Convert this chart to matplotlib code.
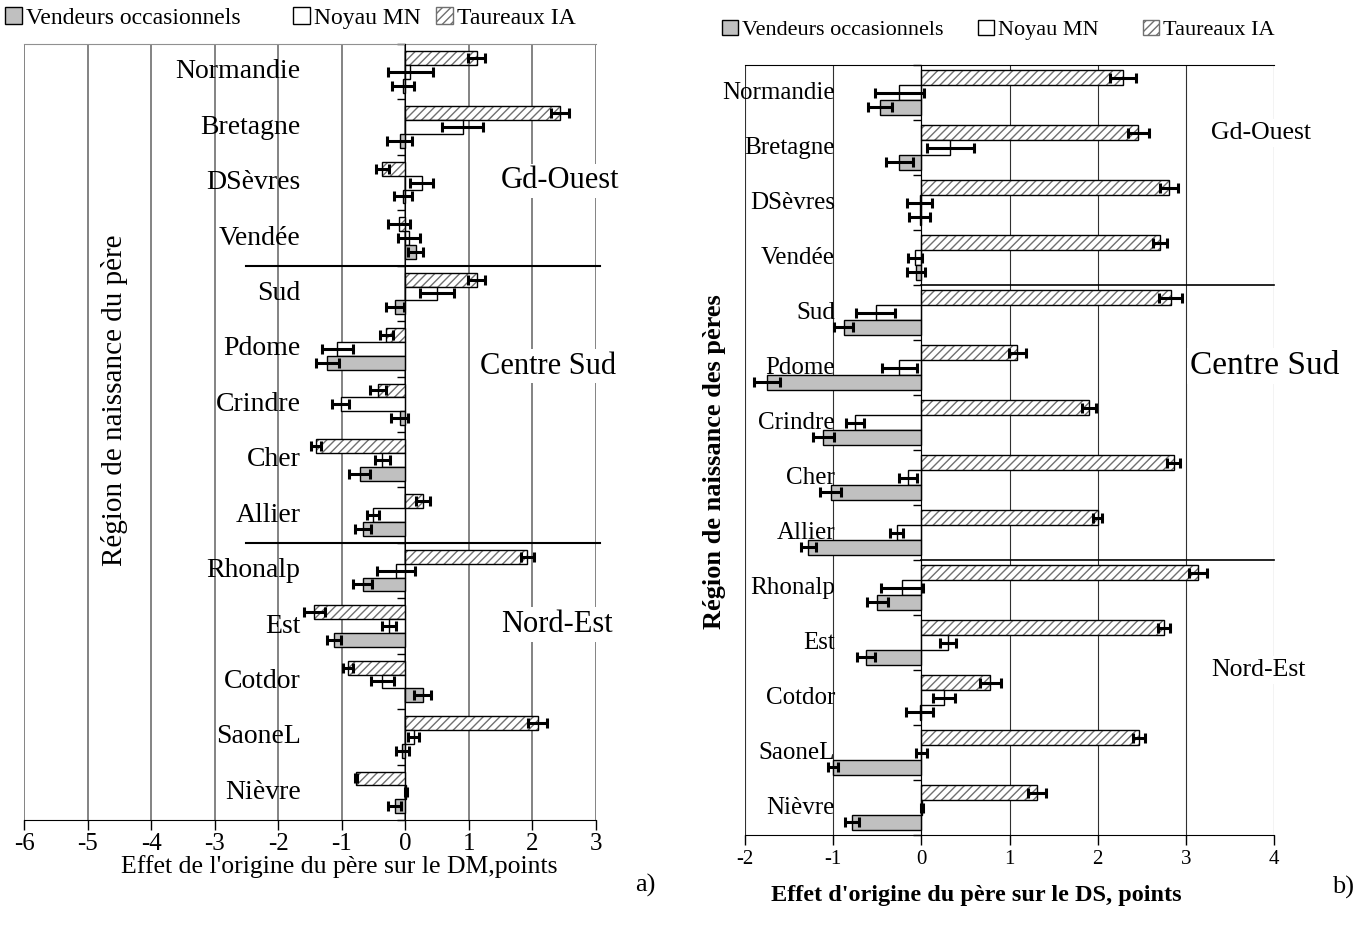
import numpy as np
import matplotlib
matplotlib.use("Agg")
import matplotlib.pyplot as plt
from matplotlib.patches import Patch
import matplotlib.transforms as mtransforms

plt.rcParams['font.family'] = ['Liberation Serif', 'DejaVu Serif']
plt.rcParams['hatch.linewidth'] = 1.0
plt.rcParams['axes.unicode_minus'] = False

regions = ["Normandie", "Bretagne", "DSèvres", "Vendée", "Sud", "Pdome", "Crindre",
           "Cher", "Allier", "Rhonalp", "Est", "Cotdor", "SaoneL", "Nièvre"]
groups = ["Gd-Ouest", "Centre Sud", "Nord-Est"]
series = ["Vendeurs occasionnels", "Noyau MN", "Taureaux IA"]

# a) effet sur le DM
dm_vo = [-0.04, -0.09, -0.04, 0.16, -0.16, -1.23, -0.09, -0.72, -0.67, -0.67, -1.12, 0.27, -0.05, -0.17]
dm_vo_err = [0.17, 0.20, 0.14, 0.12, 0.14, 0.18, 0.13, 0.16, 0.13, 0.15, 0.11, 0.14, 0.10, 0.10]
dm_mn = [0.08, 0.90, 0.26, 0.06, 0.50, -1.07, -1.02, -0.36, -0.51, -0.15, -0.26, -0.36, 0.13, 0.01]
dm_mn_err = [0.36, 0.32, 0.18, 0.17, 0.27, 0.24, 0.14, 0.12, 0.09, 0.30, 0.11, 0.18, 0.085, 0.01]
dm_ia = [1.12, 2.43, -0.36, -0.10, 1.12, -0.30, -0.43, -1.40, 0.28, 1.92, -1.43, -0.90, 2.08, -0.78]
dm_ia_err = [0.14, 0.14, 0.10, 0.18, 0.14, 0.10, 0.12, 0.08, 0.11, 0.10, 0.16, 0.08, 0.15, 0.02]

# b) effet sur le DS
ds_vo = [-0.47, -0.25, -0.02, -0.06, -0.88, -1.75, -1.11, -1.03, -1.28, -0.50, -0.63, -0.02, -1.00, -0.79]
ds_vo_err = [0.14, 0.15, 0.12, 0.10, 0.11, 0.15, 0.12, 0.12, 0.09, 0.12, 0.10, 0.15, 0.06, 0.08]
ds_mn = [-0.25, 0.33, -0.02, -0.07, -0.52, -0.25, -0.75, -0.15, -0.28, -0.22, 0.30, 0.26, 0.00, 0.005]
ds_mn_err = [0.28, 0.27, 0.14, 0.08, 0.22, 0.20, 0.10, 0.10, 0.07, 0.24, 0.09, 0.125, 0.06, 0.01]
ds_ia = [2.29, 2.46, 2.81, 2.71, 2.83, 1.09, 1.90, 2.86, 2.00, 3.14, 2.75, 0.78, 2.47, 1.31]
ds_ia_err = [0.15, 0.12, 0.10, 0.08, 0.13, 0.10, 0.08, 0.07, 0.05, 0.10, 0.07, 0.12, 0.07, 0.10]

GREY = '#c0c0c0'
HATCH_C = '#707070'
W, H = 1367, 931


def draw_panel(ax, vo, vo_e, mn, mn_e, ia, ia_e, h, xlim, grid_c, grid_lw):
    y = np.arange(len(regions))
    ax.set_xlim(*xlim)
    ax.set_ylim(len(regions) - 0.5, -0.5)
    ax.set_xticks(np.arange(xlim[0], xlim[1] + 1))
    ax.grid(axis='x', color=grid_c, lw=grid_lw, zorder=0)
    ax.set_axisbelow(True)
    ek = dict(fmt='none', ecolor='black', elinewidth=2.2, capsize=3.5, capthick=2.2, zorder=4)
    # Taureaux IA (haut)
    ax.barh(y - h, ia, height=h, color='white', edgecolor=HATCH_C, hatch='////', lw=0, zorder=2)
    ax.barh(y - h, ia, height=h, fill=False, edgecolor='black', lw=1.0, zorder=3)
    ax.errorbar(ia, y - h, xerr=ia_e, **ek)
    # Noyau MN
    ax.barh(y, mn, height=h, color='white', edgecolor='black', lw=1.0, zorder=3)
    ax.errorbar(mn, y, xerr=mn_e, **ek)
    # Vendeurs occasionnels (bas)
    ax.barh(y + h, vo, height=h, color=GREY, edgecolor='black', lw=1.0, zorder=3)
    ax.errorbar(vo, y + h, xerr=vo_e, **ek)
    # axe vertical en 0 avec graduations entre regions
    ax.spines['left'].set_position(('data', 0))
    ax.spines['left'].set_zorder(5)
    ax.set_yticks(np.arange(-0.5, len(regions) + 0.5, 1.0))
    ax.tick_params(axis='y', direction='out', length=6, width=1, labelleft=False)
    ax.tick_params(axis='x', direction='out', length=7, width=1)
    return y


def legend_row(fig, handles, xs_px, y_px, fs):
    for hd, lab, xp in zip(handles, series, xs_px):
        fig.legend([hd], [lab], loc='center left', bbox_to_anchor=(xp / W, 1 - y_px / H),
                   frameon=False, fontsize=fs, handlelength=0.7, handleheight=0.7,
                   handletextpad=0.2, borderpad=0, borderaxespad=0)


handles = [Patch(facecolor=GREY, edgecolor='black', lw=1),
           Patch(facecolor='white', edgecolor='black', lw=1),
           Patch(facecolor='white', edgecolor=HATCH_C, hatch='////', lw=1)]

fig = plt.figure(figsize=(13.67, 9.31), dpi=100)

# ---------- a) ----------
ax1 = fig.add_axes([0.0176, 0.1192, 0.4184, 0.8335])
y = draw_panel(ax1, dm_vo, dm_vo_err, dm_mn, dm_mn_err, dm_ia, dm_ia_err, 0.25, (-6, 3), '#7a7a7a', 1.3)
ax1.spines['right'].set_visible(False)
ax1.spines['top'].set_color('#909090')
ax1.tick_params(axis='x', labelsize=18, pad=2)
ax1.set_xlabel("Effet de l'origine du père sur le DM,points", fontsize=18.5, va='center')
ax1.xaxis.set_label_coords(0.551, -0.06)
for yi, name in zip(y, regions):
    ax1.text(-1.65, yi, name, ha='right', va='center', fontsize=20, zorder=1)
for gx, gy, g in [(2.44, 1.97, groups[0]), (2.25, 5.31, groups[1]), (2.39, 9.97, groups[2])]:
    ax1.text(gx, gy, g, ha='center', va='center', fontsize=22,
             bbox=dict(facecolor='white', edgecolor='none', pad=2), zorder=1)
for yl in (3.5, 8.5):
    ax1.plot([-2.5, 3.07], [yl, yl], color='black', lw=1.5, clip_on=False, zorder=3)
tr = mtransforms.blended_transform_factory(ax1.transData, ax1.transAxes)
ax1.text(-4.57, 0.541, "Région de naissance du père", rotation=90, ha='center', va='center',
         fontsize=21, transform=tr, bbox=dict(facecolor='white', edgecolor='none', pad=1))
fig.text(645 / W, 1 - 885 / H, "a)", fontsize=19, ha='center', va='center')
legend_row(fig, handles, [5, 293, 436], 18, 17)

# ---------- b) ----------
ax2 = fig.add_axes([0.545, 0.1031, 0.387, 0.827])
y = draw_panel(ax2, ds_vo, ds_vo_err, ds_mn, ds_mn_err, ds_ia, ds_ia_err, 0.27, (-2, 4), '#303030', 0.8)
ax2.spines['right'].set_visible(False)
ax2.tick_params(axis='x', labelsize=15, pad=4)
ax2.set_xlabel("Effet d'origine du père sur le DS, points", fontsize=17.5, fontweight='bold', va='center')
ax2.xaxis.set_label_coords(0.437, -0.078)
for yi, name in zip(y, regions):
    ax2.text(-0.98, yi, name, ha='right', va='center', fontsize=18, zorder=1)
for gx, gy, g, fs in [(3.85, 0.74, groups[0], 18.5), (3.89, 4.97, groups[1], 24),
                      (3.82, 10.5, groups[2], 18.5)]:
    ax2.text(gx, gy, g, ha='center', va='center', fontsize=fs, clip_on=False,
             bbox=dict(facecolor='white', edgecolor='none', pad=2), zorder=1)
for yl in (3.5, 8.5):
    ax2.plot([0, 4], [yl, yl], color='black', lw=1.2, clip_on=False, zorder=3)
fig.text(715 / W, 1 - 462 / H, "Région de naissance des pères", rotation=90,
         ha='center', va='center', fontsize=19, fontweight='bold')
fig.text(1343 / W, 1 - 887 / H, "b)", fontsize=19, ha='center', va='center')
legend_row(fig, handles, [722, 978, 1143], 30, 16)

fig.savefig("out.png", dpi=100)
